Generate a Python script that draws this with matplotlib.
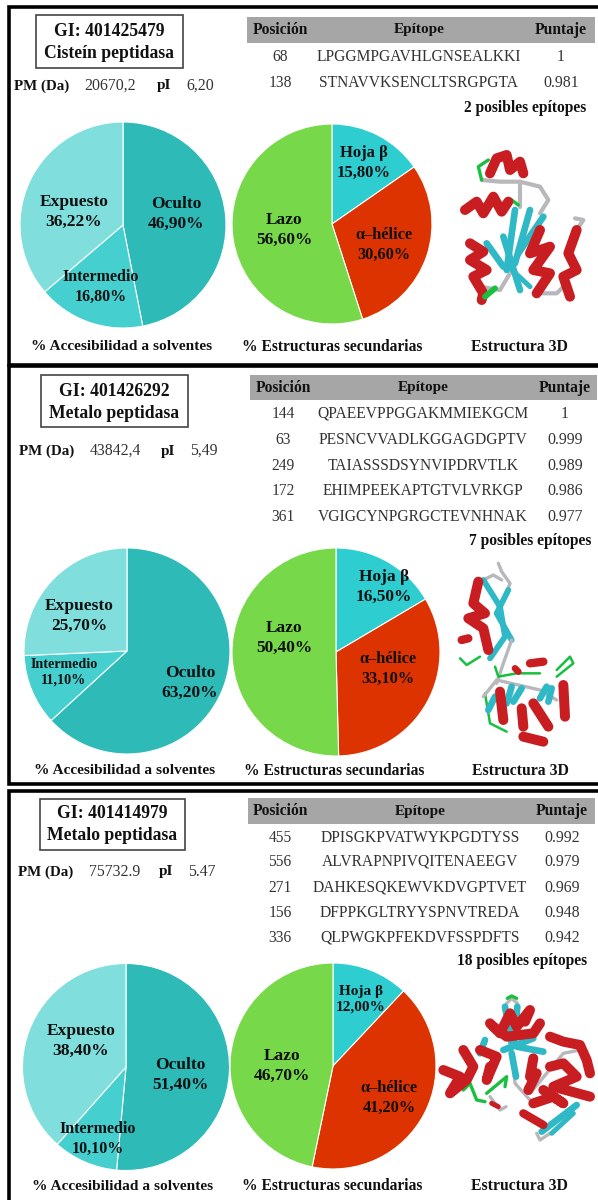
#!/usr/bin/env python3
# -*- coding: utf-8 -*-
import matplotlib
matplotlib.use('Agg')
import matplotlib.pyplot as plt
from matplotlib.patches import Rectangle

plt.rcParams['font.family'] = ['Liberation Serif', 'DejaVu Serif']
plt.rcParams['font.weight'] = 'bold'

# data
acc_labels = ['Oculto', 'Intermedio', 'Expuesto']
acc_colors = ['#2EBBB8', '#45CFCF', '#80DEDC']
sec_labels = ['Hoja β', 'α–hélice', 'Lazo']
sec_colors = ['#2ECDD0', '#DD3300', '#77D84A']

acc1 = [46.90, 16.80, 36.22]
sec1 = [15.80, 30.60, 56.60]
acc2 = [63.20, 11.10, 25.70]
sec2 = [16.50, 33.10, 50.40]
acc3 = [51.40, 10.10, 38.40]
sec3 = [12.00, 41.20, 46.70]

acc_text1 = ['46,90%', '16,80%', '36,22%']
sec_text1 = ['15,80%', '30,60%', '56,60%']
acc_text2 = ['63,20%', '11,10%', '25,70%']
sec_text2 = ['16,50%', '33,10%', '50,40%']
acc_text3 = ['51,40%', '10,10%', '38,40%']
sec_text3 = ['12,00%', '41,20%', '46,70%']

pos1 = ['68', '138']
epi1 = ['LPGGMPGAVHLGNSEALKKI', 'STNAVVKSENCLTSRGPGTA']
score1 = ['1', '0.981']

pos2 = ['144', '63', '249', '172', '361']
epi2 = ['QPAEEVPPGGAKMMIEKGCM', 'PESNCVVADLKGGAGDGPTV', 'TAIASSSDSYNVIPDRVTLK',
        'EHIMPEEKAPTGTVLVRKGP', 'VGIGCYNPGRGCTEVNHNAK']
score2 = ['1', '0.999', '0.989', '0.986', '0.977']

pos3 = ['455', '556', '271', '156', '336']
epi3 = ['DPISGKPVATWYKPGDTYSS', 'ALVRAPNPIVQITENAEEGV', 'DAHKESQKEWVKDVGPTVET',
        'DFPPKGLTRYYSPNVTREDA', 'QLPWGKPFEKDVFSSPDFTS']
score3 = ['0.992', '0.979', '0.969', '0.948', '0.942']

W, H = 598, 1200
fig = plt.figure(figsize=(W / 100, H / 100), dpi=100)
ax = fig.add_axes([0, 0, 1, 1])


def txt(x, y, s, size=11, weight='bold', ha='center', color='#111111'):
    ax.text(x, H - y, s, fontsize=size, fontweight=weight, ha=ha, va='center', color=color,
            linespacing=1.3, zorder=6)


def rect(x0, y0, x1, y1, **kw):
    ax.add_patch(Rectangle((x0, H - y1), x1 - x0, y1 - y0, **kw))


def pie(vals, colors, cx, cy, r):
    ax.pie(vals, colors=colors, center=(cx, H - cy), radius=r, startangle=90, counterclock=False,
           frame=True, wedgeprops=dict(edgecolor='white', linewidth=0.8))


def table(hx0, hx1, hy0, hy1, xs, ys, pos, epi, score):
    rect(hx0, hy0, hx1, hy1, facecolor='#A6A6A6', edgecolor='none', zorder=2)
    hy = (hy0 + hy1) / 2
    txt(xs[0], hy, 'Posición', size=11.2)
    txt(xs[1], hy, 'Epítope', size=11)
    txt(xs[2], hy, 'Puntaje', size=11.2)
    for i in range(len(pos)):
        txt(xs[0], ys[i], pos[i], size=11.2, weight='normal', color='#333333')
        txt(xs[1], ys[i], epi[i], size=11.2, weight='normal', color='#333333')
        txt(xs[2], ys[i], score[i], size=11.4, weight='normal', color='#333333')


def info(xs, y, mass, pi):
    txt(xs[0], y, 'PM (Da)', 10.8, ha='left')
    txt(xs[1], y, mass, 11.4, weight='normal', ha='left', color='#333333')
    txt(xs[2], y, 'pI', 11, ha='left')
    txt(xs[3], y, pi, 11.4, weight='normal', ha='left', color='#333333')


def captions(xs, y):
    txt(xs[0], y, '% Accesibilidad a solventes', 11.1)
    txt(xs[1], y, '% Estructuras secundarias', 11.2)
    txt(xs[2], y, 'Estructura 3D', 11.3)


def ribbon(x0, y0, paths):
    # rough sketch of the 3D model, points are in zoomed crop pixels
    for col, lw, pts in paths:
        xs = [x0 + p[0] / 3 for p in pts]
        ys = [H - (y0 + p[1] / 3) for p in pts]
        ax.plot(xs, ys, color=col, lw=lw * 1.2, solid_capstyle='round', solid_joinstyle='round', zorder=4)


RED = '#C81E22'
CY = '#2FB8C6'
GR = '#B8B8BC'
GN = '#18C040'

# panel frames
for y0, y1 in [(7, 365), (366, 784), (791, 1215)]:
    rect(8.5, y0, 620, y1, facecolor='white', edgecolor='black', linewidth=2.6, zorder=1)

# panel 1
rect(36, 15, 183, 68, facecolor='white', edgecolor='#444444', linewidth=1.2, zorder=2)
txt(109, 31, 'GI: 401425479', 12.7)
txt(109, 53, 'Cisteín peptidasa', 12.7)
info([14, 84, 157, 186], 86, '20670,2', '6,20')
table(247, 595, 17, 43, [280, 419, 561], [57, 83], pos1, epi1, score1)
txt(586, 108, '2 posibles epítopes', 11.2, ha='right')
pie(acc1, acc_colors, 123, 225, 103)
pie(sec1, sec_colors, 332, 224, 100)
txt(176, 214, acc_labels[0] + '\n' + acc_text1[0], 12.5)
txt(101, 287, acc_labels[1] + '\n' + acc_text1[1], 11.5)
txt(74, 212, acc_labels[2] + '\n' + acc_text1[2], 12.5)
txt(364, 163, sec_labels[0] + '\n' + sec_text1[0], 12)
txt(384, 245, sec_labels[1] + '\n' + sec_text1[1], 11.8)
txt(284, 230, sec_labels[2] + '\n' + sec_text1[2], 12.5)
captions([122, 332, 519], 347)
ribbon(440, 130, [
    (GR, 2.5, [(125, 150), (180, 155), (240, 155), (300, 170), (325, 210), (300, 250)]),
    (GR, 2.5, [(240, 160), (240, 230)]),
    (GR, 2.5, [(300, 490), (350, 490), (370, 470)]),
    (GR, 2.5, [(410, 300), (430, 270), (405, 265)]),
    (GR, 2.5, [(120, 470), (180, 480), (210, 430)]),
    (GN, 2, [(145, 90), (115, 110), (125, 150)]),
    (GN, 2, [(205, 230), (215, 210), (235, 225)]),
    (CY, 4, [(200, 420), (225, 240)]),
    (CY, 4, [(240, 480), (190, 320)]),
    (CY, 4, [(225, 400), (270, 240)]),
    (CY, 4, [(235, 370), (310, 260)]),
    (CY, 4, [(190, 410), (140, 340)]),
    (CY, 3, [(205, 410), (270, 470)]),
    (RED, 6, [(150, 130), (170, 85), (200, 75), (210, 120), (240, 95), (250, 130)]),
    (RED, 6, [(75, 240), (110, 215), (130, 250), (160, 200), (185, 245), (205, 215)]),
    (RED, 6, [(90, 340), (130, 365), (90, 390), (140, 420), (100, 440), (130, 490), (125, 510)]),
    (RED, 6, [(300, 300), (270, 370), (330, 350), (280, 420), (330, 430), (290, 490)]),
    (RED, 6, [(410, 300), (385, 370), (410, 420), (370, 440), (390, 500)]),
    (GN, 3.5, [(135, 500), (165, 475)]),
])

# panel 2
rect(41, 375, 188, 427, facecolor='white', edgecolor='#444444', linewidth=1.2, zorder=2)
txt(114, 391, 'GI: 401426292', 12.7)
txt(114, 413, 'Metalo peptidasa', 12.7)
info([19, 90, 161, 190], 451, '43842,4', '5,49')
table(250, 597, 375, 400, [283, 423, 565], [414, 440, 466, 491, 517], pos2, epi2, score2)
txt(591, 541, '7 posibles epítopes', 11.2, ha='right')
pie(acc2, acc_colors, 127, 651, 103)
pie(sec2, sec_colors, 336, 652, 104)
txt(190, 683, acc_labels[0] + '\n' + acc_text2[0], 12.5)
txt(64, 672, acc_labels[1] + '\n' + acc_text2[1], 10.2)
txt(79, 616, acc_labels[2] + '\n' + acc_text2[2], 12.5)
txt(384, 587, sec_labels[0] + '\n' + sec_text2[0], 12.5)
txt(388, 669, sec_labels[1] + '\n' + sec_text2[1], 11.8)
txt(284, 638, sec_labels[2] + '\n' + sec_text2[2], 12.5)
captions([125, 334, 520], 771)
ribbon(440, 550, [
    (GR, 2, [(175, 40), (185, 65), (210, 100), (200, 125)]),
    (GR, 2, [(130, 90), (160, 75), (185, 90)]),
    (GN, 1.5, [(60, 325), (80, 345), (120, 320)]),
    (CY, 3.5, [(130, 90), (180, 170), (195, 260), (150, 325)]),
    (CY, 3.5, [(205, 120), (170, 190), (215, 270)]),
    (GR, 2, [(215, 270), (190, 340), (170, 400)]),
    (GN, 1.5, [(165, 350), (175, 380), (230, 370), (300, 370)]),
    (GN, 1.5, [(350, 360), (390, 320), (400, 340), (350, 380)]),
    (GN, 1.5, [(135, 430), (150, 520), (200, 545)]),
    (GR, 2, [(130, 440), (170, 390), (300, 420), (350, 450)]),
    (CY, 4, [(145, 480), (165, 440)]),
    (CY, 4, [(200, 460), (215, 410)]),
    (CY, 4, [(220, 455), (245, 415)]),
    (CY, 4, [(300, 445), (320, 410)]),
    (CY, 4, [(325, 455), (335, 415)]),
    (RED, 6, [(115, 95), (100, 160), (135, 190), (85, 205), (130, 235), (145, 300)]),
    (RED, 5, [(65, 270), (85, 265)]),
    (RED, 5, [(270, 340), (310, 335)]),
    (RED, 4, [(225, 355), (235, 365)]),
    (RED, 6, [(180, 425), (190, 510)]),
    (RED, 6, [(245, 475), (250, 530)]),
    (RED, 6, [(280, 460), (325, 530)]),
    (RED, 6, [(370, 405), (375, 500)]),
    (RED, 6, [(250, 560), (310, 575)]),
])

# panel 3
rect(40, 799, 185, 850, facecolor='white', edgecolor='#444444', linewidth=1.2, zorder=2)
txt(112, 813, 'GI: 401414979', 12.7)
txt(112, 835, 'Metalo peptidasa', 12.7)
info([18, 89, 159, 188], 872, '75732.9', '5.47')
table(248, 595, 798, 824, [280, 420, 562], [838, 862, 888, 913, 938], pos3, epi3, score3)
txt(587, 961, '18 posibles epítopes', 11.2, ha='right')
pie(acc3, acc_colors, 126, 1067, 103.5)
pie(sec3, sec_colors, 333, 1066, 103)
txt(180, 1075, acc_labels[0] + '\n' + acc_text3[0], 12.5)
txt(98, 1139, acc_labels[1] + '\n' + acc_text3[1], 11.5)
txt(81, 1041, acc_labels[2] + '\n' + acc_text3[2], 12.5)
txt(361, 999, sec_labels[0] + '\n' + sec_text3[0], 11)
txt(389, 1098, sec_labels[1] + '\n' + sec_text3[1], 11.8)
txt(282, 1066, sec_labels[2] + '\n' + sec_text3[2], 12.5)
captions([123, 332, 519], 1186)
ribbon(430, 970, [
    (GR, 2, [(230, 100), (245, 85), (262, 100)]),
    (GN, 2, [(232, 85), (245, 78), (260, 85)]),
    (GR, 2, [(245, 230), (255, 340), (300, 390)]),
    (GR, 2, [(300, 370), (400, 250), (450, 240)]),
    (GR, 2, [(180, 380), (210, 420), (228, 410)]),
    (GR, 2, [(320, 490), (330, 510), (360, 490)]),
    (GN, 2, [(100, 360), (120, 340), (140, 390), (165, 395)]),
    (GN, 2, [(170, 370), (230, 320), (225, 350)]),
    (CY, 4, [(245, 220), (225, 110)]),
    (CY, 4, [(252, 220), (262, 110)]),
    (CY, 4, [(220, 240), (310, 205)]),
    (CY, 4, [(260, 230), (340, 245)]),
    (CY, 4, [(245, 250), (258, 320)]),
    (CY, 4, [(150, 250), (165, 210)]),
    (CY, 4, [(335, 485), (440, 405)]),
    (CY, 3, [(365, 490), (430, 430)]),
    (RED, 6, [(180, 160), (210, 190), (240, 130), (260, 170), (300, 120), (285, 155)]),
    (RED, 6, [(190, 170), (230, 200), (310, 190), (330, 160)]),
    (RED, 6, [(40, 300), (90, 320), (60, 370), (110, 330), (130, 290), (100, 240)]),
    (RED, 6, [(150, 240), (200, 260), (170, 330), (180, 290)]),
    (RED, 6, [(310, 265), (300, 320), (320, 310), (295, 360)]),
    (RED, 6, [(360, 200), (400, 215), (450, 225), (470, 270), (480, 310)]),
    (RED, 6, [(360, 290), (400, 280), (440, 320), (370, 350), (480, 380)]),
    (RED, 6, [(340, 360), (400, 400), (370, 380), (310, 400)]),
    (RED, 5, [(280, 430), (340, 465)]),
    (RED, 3, [(185, 400), (205, 410)]),
])

ax.set_xlim(0, W)
ax.set_ylim(0, H)
ax.axis('off')

fig.savefig('out.png', dpi=100)
